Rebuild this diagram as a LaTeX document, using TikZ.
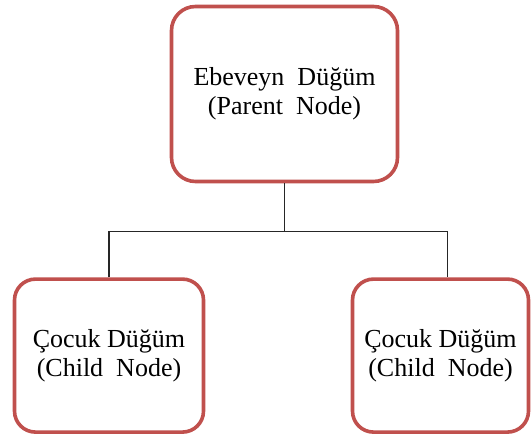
\documentclass[tikz,border=0pt]{standalone}
\usepackage{fontspec}
\setmainfont{Liberation Serif}
\usepackage{tikz}
\usetikzlibrary{positioning}

\definecolor{boxred}{HTML}{C0504D}

\begin{document}
\begin{tikzpicture}[
  x=1pt, y=1pt,
  treebox/.style={draw=boxred, line width=3.6pt, fill=white, align=center,
    font=\fontsize{26}{29}\selectfont, inner sep=0pt},
  parentbox/.style={treebox, rounded corners=24pt, minimum width=226pt, minimum height=175pt},
  childbox/.style={treebox, rounded corners=21pt, minimum height=153pt},
  link/.style={draw=black!85, line width=1.3pt}
]
\useasboundingbox (0,0) rectangle (532,-435);

% Parent on top
\node[parentbox] (parent) at (284.5,-94) {Ebeveyn\enspace Düğüm\\(Parent\enspace Node)};

% Two children below
\node[childbox, minimum width=189pt, below=94pt of parent, xshift=-175.5pt] (leftchild)
  {Çocuk Düğüm\\(Child\enspace Node)};
\node[childbox, minimum width=176pt, below=94pt of parent, xshift=156pt] (rightchild)
  {Çocuk Düğüm\\(Child\enspace Node)};

% Elbow connectors
\coordinate[below=48pt of parent] (branch);
\draw[link] (parent.south) -- (branch);
\draw[link] (leftchild.north) |- (branch) -| ([xshift=7pt]rightchild.north);

\end{tikzpicture}
\end{document}
